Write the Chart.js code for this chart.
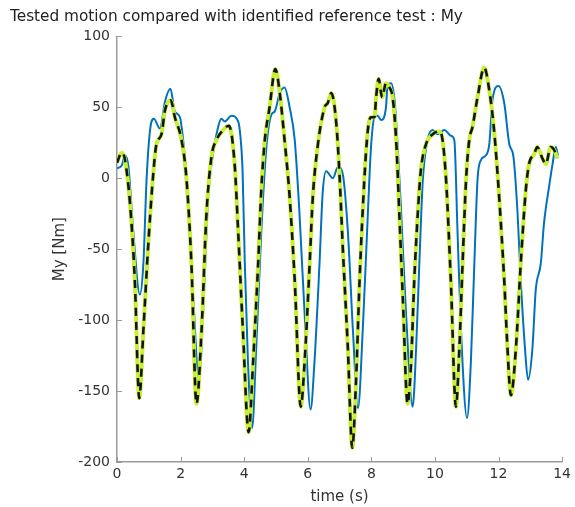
<!DOCTYPE html>
<html>
<head>
<meta charset="utf-8">
<title>My comparison</title>
<script src="https://cdn.jsdelivr.net/npm/chart.js@4/dist/chart.umd.min.js"></script>
<style>
  html, body { margin: 0; padding: 0; background: #fff; }
  #wrap { width: 575px; height: 507px; }
</style>
</head>
<body>
<div id="wrap"><canvas id="c"></canvas></div>
<script>
// identified reference test (time in s, moment in Nm)
const tRef = [0.00, 0.15, 0.25, 0.41, 0.56, 0.70, 0.83, 0.98, 1.14, 1.24, 1.40, 1.51, 1.69, 1.82, 2.03, 2.18,
  2.34, 2.50, 2.66, 2.81, 2.97, 3.13, 3.30, 3.52, 3.70, 3.81, 3.96, 4.14, 4.28, 4.44, 4.54, 4.65, 4.80,
  4.98, 5.12, 5.27, 5.43, 5.59, 5.78, 5.90, 6.06, 6.16, 6.32, 6.53, 6.63, 6.74, 6.90, 7.00, 7.10, 7.26,
  7.40, 7.52, 7.63, 7.78, 7.89, 7.99, 8.10, 8.15, 8.23, 8.34, 8.46, 8.57, 8.67, 8.78, 8.88, 8.99, 9.14,
  9.25, 9.35, 9.46, 9.56, 9.72, 9.93, 10.14, 10.24, 10.35, 10.50, 10.66, 10.77, 10.87, 10.98, 11.08,
  11.18, 11.34, 11.55, 11.71, 11.86, 12.02, 12.18, 12.28, 12.39, 12.55, 12.70, 12.86, 12.96, 13.12,
  13.22, 13.38, 13.49, 13.64, 13.75, 13.85];
const myRef = [11, 18, 13, -18, -72, -155, -107, -48, 3, 24, 31, 48, 55, 43, 27, 1,
  -60, -159, -107, -27, 15, 27, 33, 37, 10, -37, -107, -179, -130, -60, -8, 27, 50,
  77, 60, 27, -13, -72, -161, -130, -60, -13, 24, 50, 53, 60, 38, 2, -48, -119,
  -190, -142, -72, -1, 34, 43, 43, 57, 70, 57, 67, 64, 57, 27, -25, -84, -159,
  -130, -72, -25, 6, 24, 31, 33, 27, -1, -72, -161, -119, -60, -1, 27,
  36, 57, 78, 62, 34, -13, -72, -119, -153, -119, -60, -8, 10, 17,
  22, 14, 10, 22, 20, 14];

// tested motion
const tTest = [0.00, 0.15, 0.25, 0.36, 0.51, 0.72, 0.83, 0.93, 1.04, 1.16, 1.35, 1.51, 1.68, 1.82, 1.98, 2.08,
  2.24, 2.40, 2.58, 2.71, 2.87, 3.02, 3.18, 3.28, 3.39, 3.60, 3.81, 3.88, 3.95, 4.02, 4.12, 4.25, 4.38,
  4.54, 4.70, 4.86, 4.96, 5.12, 5.27, 5.43, 5.59, 5.74, 5.90, 6.09, 6.21, 6.37, 6.47, 6.58, 6.79, 6.95,
  7.10, 7.26, 7.42, 7.58, 7.73, 7.89, 7.99, 8.10, 8.20, 8.31, 8.46, 8.51, 8.62, 8.73, 8.83, 8.94, 9.09,
  9.30, 9.41, 9.51, 9.62, 9.77, 9.93, 10.09, 10.30, 10.50, 10.61, 10.71, 10.82, 11.01, 11.13, 11.24,
  11.34, 11.45, 11.60, 11.71, 11.81, 12.00, 12.18, 12.34, 12.47, 12.60, 12.70, 12.83, 12.93, 13.07,
  13.17, 13.33, 13.43, 13.59, 13.70, 13.80, 13.87];
const myTest = [7, 9, 16, 8, -37, -82, -60, -1, 34, 42, 35, 54, 63, 47, 43, 27,
  -13, -84, -142, -95, -13, 17, 36, 42, 40, 44, 40, 30, 5, -60, -130, -176, -119,
  -37, 22, 45, 47, 60, 64, 50, 27, -25, -95, -163, -130, -60, -10, 5, 0, 8,
  3, -37, -107, -162, -107, -25, 22, 43, 44, 41, 50, 65, 67, 55, 22, -25, -95,
  -161, -119, -60, -1, 27, 34, 31, 34, 30, 27, -37, -107, -169, -130, -60,
  -1, 13, 16, 24, 55, 65, 53, 24, 15, -25, -72, -119, -142, -119,
  -79, -60, -32, -6, 10, 22, 16];

const xTicks = [0, 2, 4, 6, 8, 10, 12, 14];
const yTicks = [-200, -150, -100, -50, 0, 50, 100];

const FONT = "'DejaVu Sans', 'Liberation Sans', sans-serif";
const AXIS = '#9a9a9a';
const TEXT = '#333333';

const pts = (ts, vs) => ts.map((t, i) => ({ x: t, y: vs[i] }));

Chart.defaults.font.family = FONT;
Chart.defaults.font.size = 14;
Chart.defaults.color = TEXT;

// short tick marks pointing into the plot area, on the left and bottom axes only
const inwardTicks = {
  id: 'inwardTicks',
  afterDraw(chart) {
    const { ctx, chartArea: a, scales: { x, y } } = chart;
    ctx.save();
    ctx.strokeStyle = AXIS;
    ctx.lineWidth = 1;
    ctx.beginPath();
    xTicks.forEach(v => {
      const px = Math.round(x.getPixelForValue(v)) + 0.5;
      ctx.moveTo(px, a.bottom);
      ctx.lineTo(px, a.bottom - 5);
    });
    yTicks.forEach(v => {
      const py = Math.round(y.getPixelForValue(v)) + 0.5;
      ctx.moveTo(a.left, py);
      ctx.lineTo(a.left + 5, py);
    });
    ctx.stroke();
    ctx.restore();
  }
};

const line = (data, extra) => ({
  data,
  pointRadius: 0,
  fill: false,
  cubicInterpolationMode: 'monotone',
  ...extra,
});

new Chart(document.getElementById('c'), {
  type: 'line',
  data: {
    datasets: [
      // first dataset is painted last, so the dashed line ends up on top
      line(pts(tRef, myRef), { label: 'reference', borderColor: '#141414', borderWidth: 2.6, borderDash: [8, 6] }),
      line(pts(tRef, myRef), { label: 'identified', borderColor: '#c8f032', borderWidth: 4 }),
      line(pts(tTest, myTest), { label: 'tested', borderColor: '#0072bd', borderWidth: 2 }),
    ]
  },
  options: {
    responsive: true,
    maintainAspectRatio: false,
    animation: false,
    devicePixelRatio: 1,
    layout: { padding: { left: 10, right: 12, top: 0, bottom: 0 } },
    plugins: {
      legend: { display: false },
      tooltip: { enabled: false },
      title: {
        display: true,
        text: 'Tested motion compared with identified reference test : My',
        align: 'start',
        color: '#222',
        font: { size: 15.3, weight: 'normal' },
        padding: { top: 8, bottom: 10 },
      },
    },
    scales: {
      x: {
        type: 'linear',
        min: 0,
        max: 14,
        afterBuildTicks: s => { s.ticks = xTicks.map(v => ({ value: v })); },
        afterFit: s => { s.height = 45; },
        grid: { display: false, drawTicks: false, tickLength: 0 },
        border: { display: true, color: AXIS, width: 1.5 },
        ticks: { padding: 4, maxRotation: 0, color: TEXT },
        title: { display: true, text: 'time (s)', color: TEXT, font: { size: 15 }, padding: { top: 0, bottom: 1 } },
      },
      y: {
        min: -200,
        max: 100,
        afterBuildTicks: s => { s.ticks = yTicks.map(v => ({ value: v })); },
        afterFit: s => { s.width = 107; },
        grid: { display: false, drawTicks: false, tickLength: 0 },
        border: { display: true, color: AXIS, width: 1.5 },
        ticks: { padding: 7, color: TEXT },
        title: { display: true, text: 'My [Nm]', color: TEXT, font: { size: 15 }, padding: { top: 41, bottom: 0 } },
      },
    },
  },
  plugins: [inwardTicks],
});
</script>
</body>
</html>
